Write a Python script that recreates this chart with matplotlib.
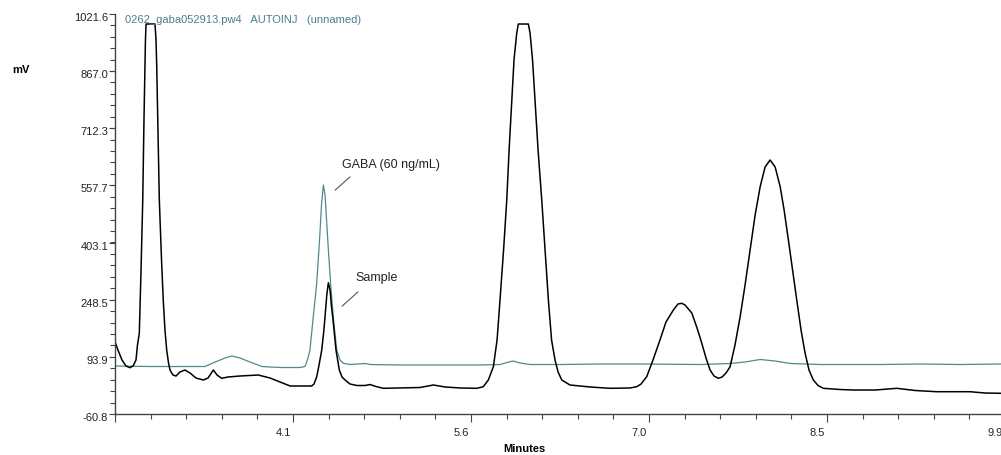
import matplotlib
matplotlib.use('Agg')
import matplotlib.pyplot as plt
from matplotlib.ticker import AutoMinorLocator
from matplotlib.transforms import ScaledTranslation

plt.rcParams['font.family'] = ['Liberation Sans', 'DejaVu Sans']

# ---- data (minutes, mV) ----
sample_t = [2.650, 2.674, 2.707, 2.740, 2.772, 2.797, 2.821, 2.833, 2.848, 2.862,
            2.876, 2.886, 2.894, 2.898, 2.903, 2.976, 2.984, 2.990, 3.000, 3.011,
            3.029, 3.043, 3.057, 3.071, 3.086, 3.098, 3.122, 3.147, 3.179, 3.220,
            3.261, 3.310, 3.369, 3.408, 3.451, 3.481, 3.519, 3.570, 3.668, 3.817,
            3.913, 3.994, 4.076, 4.157, 4.252, 4.271, 4.293, 4.312, 4.334, 4.349,
            4.361, 4.375, 4.388, 4.402, 4.412, 4.423, 4.450, 4.477, 4.499, 4.524,
            4.564, 4.619, 4.687, 4.727, 4.776, 4.836, 4.972, 5.135, 5.243, 5.338,
            5.460, 5.596, 5.650, 5.691, 5.732, 5.762, 5.786, 5.815, 5.841, 5.860,
            5.882, 5.900, 5.922, 5.935, 6.017, 6.031, 6.051, 6.071, 6.096, 6.126,
            6.153, 6.180, 6.206, 6.234, 6.259, 6.289, 6.356, 6.519, 6.682, 6.845,
            6.900, 6.935, 6.981, 7.032, 7.089, 7.138, 7.198, 7.236, 7.266, 7.293,
            7.348, 7.391, 7.429, 7.464, 7.497, 7.529, 7.565, 7.595, 7.627, 7.660,
            7.700, 7.742, 7.782, 7.823, 7.864, 7.905, 7.945, 7.986, 8.027, 8.068,
            8.100, 8.135, 8.169, 8.203, 8.238, 8.271, 8.303, 8.338, 8.376, 8.420,
            8.555, 8.664, 8.841, 9.018, 9.167, 9.343, 9.615, 9.737, 9.867, 9.940]
sample_mv = [134.8, 112.4, 85.3, 69.1, 64.5, 69.1, 85.3, 125.9, 157.6, 328.9,
             518.3, 734.8, 878.2, 951.2, 994.5, 994.5, 951.2, 878.2, 707.7, 518.3,
             355.9, 247.7, 166.5, 112.4, 77.2, 58.3, 44.7, 42.0, 52.9, 58.3,
             50.1, 36.6, 31.2, 36.6, 58.3, 44.7, 35.8, 39.3, 42.0, 44.7,
             36.6, 25.8, 15.0, 15.0, 15.0, 20.4, 40.1, 71.8, 112.4, 158.4,
             202.5, 261.2, 294.5, 274.7, 234.2, 202.5, 112.4, 58.3, 39.3, 31.2,
             20.4, 16.3, 16.3, 19.0, 13.6, 8.7, 9.6, 10.9, 17.7, 12.3,
             9.6, 8.7, 13.1, 31.2, 67.2, 139.4, 247.7, 383.0, 518.3, 653.6,
             788.9, 897.1, 969.4, 994.5, 994.5, 969.4, 897.1, 788.9, 653.6, 518.3,
             383.0, 247.7, 139.4, 85.3, 52.9, 31.2, 17.7, 12.3, 8.7, 9.6,
             13.1, 20.4, 40.1, 85.3, 139.4, 188.2, 220.6, 236.9, 238.8, 234.2,
             212.5, 171.9, 131.3, 90.7, 58.3, 42.0, 35.8, 39.3, 50.1, 67.2,
             125.9, 202.5, 288.3, 383.0, 477.7, 554.3, 607.6, 626.5, 607.6, 554.3,
             491.2, 410.0, 328.9, 247.7, 166.5, 103.5, 58.3, 31.2, 16.3, 8.7,
             5.5, 4.1, 4.1, 8.7, 2.8, -0.5, -0.5, -4.0, -4.8, -5.2]

std_t = [2.650, 2.935, 3.179, 3.383, 3.465, 3.546, 3.603, 3.668, 3.750, 3.847,
         3.994, 4.157, 4.198, 4.222, 4.238, 4.265, 4.293, 4.316, 4.332, 4.347,
         4.361, 4.388, 4.410, 4.428, 4.456, 4.483, 4.510, 4.564, 4.687, 4.727,
         4.972, 5.297, 5.623, 5.786, 5.843, 5.892, 5.949, 6.031, 6.275, 6.601,
         6.927, 7.416, 7.660, 7.782, 7.905, 8.027, 8.150, 8.394, 8.882, 9.208,
         9.534, 9.867, 9.940]
std_mv = [69.1, 67.7, 67.7, 67.7, 79.9, 90.7, 96.2, 90.7, 79.9, 67.7,
          65.0, 65.0, 67.7, 90.7, 112.4, 202.5, 292.9, 410.0, 504.8, 558.9,
          531.8, 383.0, 274.7, 202.5, 112.4, 85.3, 76.4, 73.1, 75.9, 73.1,
          71.8, 71.8, 71.8, 73.1, 78.6, 82.6, 77.2, 73.1, 73.1, 74.5,
          74.5, 73.1, 75.9, 79.9, 86.7, 82.6, 75.9, 73.1, 73.1, 74.5,
          73.1, 74.5, 74.5]

x_ticks = [2.65, 4.10, 5.55, 7.00, 8.45, 9.90]
x_labels = ['', '4.1', '5.6', '7.0', '8.5', '9.9']
y_ticks = [-60.8, 93.9, 248.5, 403.1, 557.7, 712.3, 867.0, 1021.6]
y_labels = ['-60.8', '93.9', '248.5', '403.1', '557.7', '712.3', '867.0', '1021.6']

title_text = '0262_gaba052913.pw4   AUTOINJ   (unnamed)'

W, H = 1001, 455
fig = plt.figure(figsize=(W / 100, H / 100), dpi=100)
ax = fig.add_axes([115 / W, 41 / H, 895 / W, 400 / H])

ax.plot(std_t, std_mv, color='#4f8a8c', lw=0.9)
ax.plot(sample_t, sample_mv, color='black', lw=1.1)

ax.set_xlim(2.65, 9.94)
ax.set_ylim(-60.8, 1021.6)
ax.set_xticks(x_ticks)
ax.set_xticklabels(x_labels)
ax.set_yticks(y_ticks)
ax.set_yticklabels(y_labels)
ax.xaxis.set_minor_locator(AutoMinorLocator(5))
ax.yaxis.set_minor_locator(AutoMinorLocator(5))

for s in ['top', 'right']:
    ax.spines[s].set_visible(False)
for s in ['left', 'bottom']:
    ax.spines[s].set_color('#444444')
    ax.spines[s].set_linewidth(1.0)

ax.tick_params(axis='x', which='major', length=6, width=0.8, color='#444444',
               labelsize=8, labelcolor='#222222', pad=4)
ax.tick_params(axis='x', which='minor', length=3.5, width=0.8, color='#444444')
ax.tick_params(axis='y', which='major', length=4, width=0.8, color='#444444',
               labelsize=8, labelcolor='#222222', pad=1)
ax.tick_params(axis='y', which='minor', length=3.5, width=0.8, color='#444444')

for lab in ax.get_xticklabels():
    lab.set_horizontalalignment('right')
    lab.set_transform(lab.get_transform() + ScaledTranslation(-0.02, 0, fig.dpi_scale_trans))
for lab in ax.get_yticklabels():
    lab.set_transform(lab.get_transform() + ScaledTranslation(0, -0.03, fig.dpi_scale_trans))

fig.text(125 / W, 1 - 20 / H, title_text, color='#4a7f8c', fontsize=8, va='center', ha='left')
fig.text(21 / W, 1 - 70 / H, 'mV', fontsize=8, weight='bold', ha='center', va='center')
fig.text(524 / W, 1 - 449 / H, 'Minutes', fontsize=8, weight='bold', ha='center', va='center')

ax.text(4.898, 613.0, 'GABA (60 ng/mL)', fontsize=9, color='#222222', ha='center', va='center')
ax.annotate('', xy=(4.426, 539.9), xytext=(4.581, 585.9),
            arrowprops=dict(arrowstyle='-', color='#555555', lw=0.8))
ax.text(4.784, 307.2, 'Sample', fontsize=9, color='#222222', ha='center', va='center')
ax.annotate('', xy=(4.483, 226.0), xytext=(4.646, 274.7),
            arrowprops=dict(arrowstyle='-', color='#555555', lw=0.8))

fig.savefig('out.png', dpi=100, facecolor='white')
